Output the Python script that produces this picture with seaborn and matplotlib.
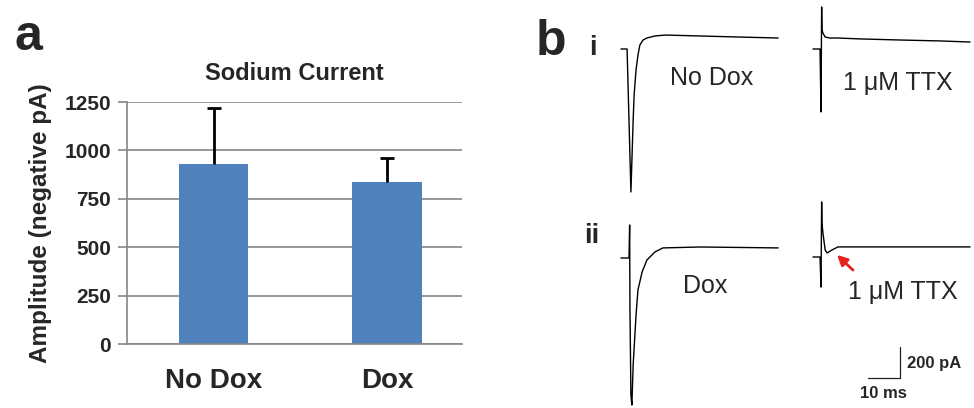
#!/usr/bin/env python3
""" Sodium current amplitude bars plus example current traces """

import numpy as np
import pandas as pd
import matplotlib
matplotlib.use('Agg')
import matplotlib.pyplot as plt
import seaborn as sns

# Panel a: mean amplitude (negative pA) and upper error
groups = ['No Dox', 'Dox']
amplitude = [930, 837]
amplitude_err = [290, 125]
yticks = [0, 250, 500, 750, 1000, 1250]

# Panel b: traces, time (ms) and current (pA) relative to holding level
nodox_t = [0, 1.9, 3.1, 3.8, 4.1, 4.7, 5.3, 5.9, 6.9, 8.1, 10.6, 13.8, 24.7, 37.2, 49.1]
nodox_i = [0, 0, -922, -458, -297, -135, -39, 26, 58, 71, 84, 90, 84, 77, 71]

ttx1_t = [0, 2.2, 2.5, 2.7, 2.8, 3.1, 3.8, 5.3, 7.5, 14.7, 27.2, 39.7, 49.1]
ttx1_i = [0, 0, -406, 271, 123, 103, 77, 71, 71, 65, 58, 52, 45]

dox_t = [0, 2.5, 2.7, 2.8, 3.1, 3.4, 3.8, 4.7, 5.3, 6.6, 8.1, 10.6, 13.1, 24.7, 37.2, 49.1]
dox_i = [0, 0, 213, -335, -884, -948, -690, -368, -206, -90, -13, 39, 65, 71, 68, 65]

ttx2_t = [0, 2.2, 2.5, 2.7, 2.8, 3.1, 3.8, 4.4, 5.9, 7.8, 20.9, 36.6, 49.1]
ttx2_i = [0, 0, -194, 355, 219, 155, 45, 26, 45, 65, 65, 65, 65]

SCALE_MS = 10
SCALE_PA = 200

# layout (pixels)
W, H = 974, 408
MS_PER_PX = 0.3125
PA_PER_PX = 6.45
GRID = '#868686'
BLUE = '#4F81BD'


def fx(x):
  return x / W


def fy(y):
  return 1 - y / H


def to_b(px, py):
  """ pixel position -> panel b data coords (ms, pA) """
  return px * MS_PER_PX, (H - py) * PA_PER_PX


sns.set_theme(style='white')
plt.rcParams['font.family'] = ['Liberation Sans', 'DejaVu Sans']

fig = plt.figure(figsize=(W / 100, H / 100), dpi=100)

# ---- panel a ----
ax = fig.add_axes([fx(127), fy(344), (462 - 127) / W, (344 - 102) / H])
df = pd.DataFrame({'group': groups, 'amp': amplitude})
sns.barplot(data=df, x='group', y='amp', order=groups, color=BLUE, width=0.4,
            saturation=1, errorbar=None, linewidth=0, ax=ax, zorder=2)
eb = ax.errorbar(range(len(groups)), amplitude, yerr=[[0] * len(groups), amplitude_err],
                 fmt='none', ecolor='black', elinewidth=2, capsize=5, capthick=2, zorder=3)
# only the "plus" side, like Excel
eb[1][0].set_visible(False)
ax.set_ylim(0, 1250)
ax.set_xlim(-0.4986, 1.432)
ax.set_axisbelow(True)
ax.yaxis.grid(True, color=GRID, lw=1.2)
ax.set_yticks(yticks)
ax.set_yticklabels([str(v) for v in yticks], fontsize=15, fontweight='bold')
ax.set_xticks(range(len(groups)))
ax.set_xticklabels(groups, fontsize=20, fontweight='bold')
ax.tick_params(axis='y', left=True, length=6.5, width=1.2, color=GRID, direction='out', pad=5)
ax.tick_params(axis='x', length=0, pad=17)
for side in ['top', 'right']:
  ax.spines[side].set_visible(False)
for side in ['left', 'bottom']:
  ax.spines[side].set_color(GRID)
  ax.spines[side].set_linewidth(1.2)
ax.set_xlabel('')
ax.set_ylabel('Amplitude (negative pA)', fontsize=17.5, fontweight='bold', labelpad=9)
ax.set_title('Sodium Current', fontsize=17, fontweight='bold', pad=16)

# ---- panel b ----
bx = fig.add_axes([fx(560), 0, (W - 560) / W, 1])
bx.set_xlim(560 * MS_PER_PX, W * MS_PER_PX)
bx.set_ylim(0, H * PA_PER_PX)
bx.axis('off')

traces = [
  (nodox_t, nodox_i, (621, 49)),
  (ttx1_t, ttx1_i, (813, 49)),
  (dox_t, dox_i, (621, 258)),
  (ttx2_t, ttx2_i, (813, 257)),
]
for t, cur, origin in traces:
  x0, y0 = to_b(*origin)
  sns.lineplot(x=np.array(t) + x0, y=np.array(cur) + y0, ax=bx, color='black',
               lw=1.0, sort=False, estimator=None)

# scale bar
cx, cy = to_b(900, 378)
bx.plot([cx - SCALE_MS, cx, cx], [cy, cy, cy + SCALE_PA], color='#222222', lw=0.9)

# red arrow at the residual current
bx.annotate('', xy=to_b(835, 253), xytext=to_b(855, 272),
            arrowprops=dict(arrowstyle='-|>', color='#e8231f', lw=2, mutation_scale=15))

# ---- texts ----
fig.text(fx(14), fy(50), 'a', fontsize=36, fontweight='bold', va='baseline')
fig.text(fx(536), fy(55), 'b', fontsize=36, fontweight='bold', va='baseline')
fig.text(fx(593), fy(55), 'i', fontsize=20, fontweight='bold', va='baseline', ha='center')
fig.text(fx(592), fy(243), 'ii', fontsize=20, fontweight='bold', va='baseline', ha='center')
fig.text(fx(670), fy(85), 'No Dox', fontsize=18, va='baseline')
fig.text(fx(843), fy(90), '1 \u03bcM TTX', fontsize=18, va='baseline')
fig.text(fx(683), fy(293), 'Dox', fontsize=18, va='baseline')
fig.text(fx(848), fy(299), '1 \u03bcM TTX', fontsize=18, va='baseline')
fig.text(fx(907), fy(368), '200 pA', fontsize=12, fontweight='bold', va='baseline')
fig.text(fx(860), fy(398), '10 ms', fontsize=12, fontweight='bold', va='baseline')

fig.savefig('out.png', dpi=100)
